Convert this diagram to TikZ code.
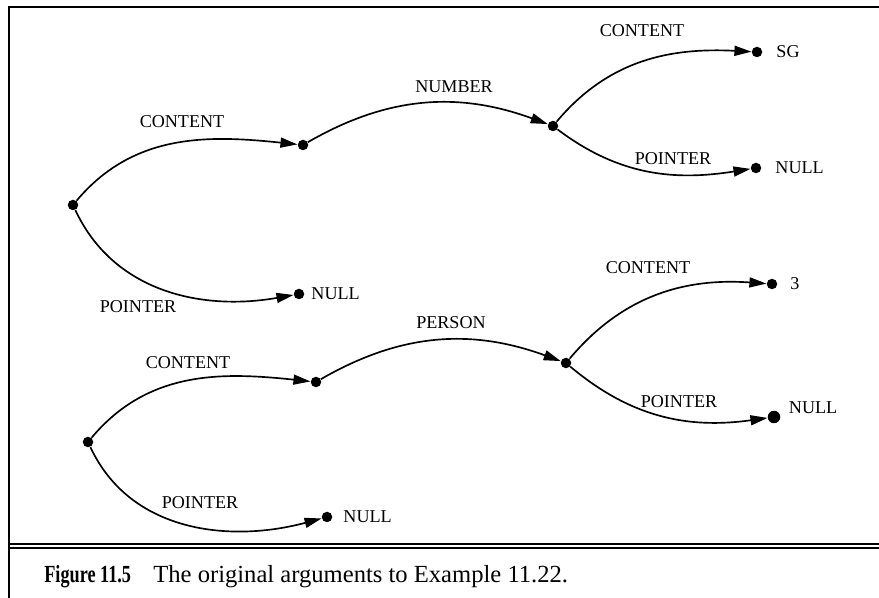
\documentclass[tikz,border=0pt]{standalone}
\usepackage{fontspec}
\setmainfont{Liberation Serif}
\usetikzlibrary{positioning,arrows.meta}

\begin{document}
\begin{tikzpicture}[
    dot/.style={circle,fill=black,inner sep=0pt,minimum size=2.1mm},
    lab/.style={inner sep=0pt,font=\fontsize{10.3}{12}\selectfont},
    captext/.style={inner sep=0pt,font=\fontsize{14}{16}\selectfont},
    arr/.style={-{Triangle[length=3.4mm,width=2mm]},line width=0.95pt},
    frameline/.style={line width=1.2pt}]
  \useasboundingbox (0,0) rectangle (17.58,-11.96);
  % frame and caption rules
  \draw[frameline] (0.176,-11.96) -- (0.176,-0.144) -- (17.58,-0.144);
  \draw[line width=0.7pt] (0.176,-10.88) -- (17.58,-10.88);
  \draw[line width=1.3pt] (0.176,-10.96) -- (17.58,-10.96);
  % first argument
  \node[dot] (a1) at (1.46,-4.10) {};
  \node[dot] (b1) at (6.06,-2.90) {};
  \node[dot] (c1) at (11.06,-2.52) {};
  \node[dot] (sg) at (15.14,-1.04) {};
  \node[dot] (n1) at (15.12,-3.36) {};
  \node[dot] (n0) at (5.98,-5.88) {};
  \draw[arr] (a1) to[out=50,in=174] (b1);
  \draw[arr] (a1) to[out=-65,in=190] (n0);
  \draw[arr] (b1) to[out=30,in=160] (c1);
  \draw[arr] (c1) to[out=50,in=177] (sg);
  \draw[arr] (c1) to[out=-37,in=189] (n1);
  \node[lab] (l1) at (3.64,-2.44) {CONTENT};
  \node[lab] (l2) at (2.76,-6.14) {POINTER};
  \node[lab] (l3) at (9.08,-1.74) {NUMBER};
  \node[lab] (l4) at (12.84,-0.62) {CONTENT};
  \node[lab] (l5) at (13.46,-3.18) {POINTER};
  \node[lab,right=0.27cm of sg] (sgl) {SG};
  \node[lab,right=0.27cm of n1] (n1l) {NULL};
  \node[lab,right=0.13cm of n0] (n0l) {NULL};
  % second argument
  \node[dot] (a2) at (1.76,-8.84) {};
  \node[dot] (b2) at (6.32,-7.64) {};
  \node[dot] (c2) at (11.32,-7.26) {};
  \node[dot] (th) at (15.44,-5.68) {};
  \node[dot,minimum height=2.5mm] (n3) at (15.48,-8.34) {};
  \node[dot] (n2) at (6.54,-10.34) {};
  \draw[arr] (a2) to[out=50,in=174] (b2);
  \draw[arr] (a2) to[out=-65,in=195] (n2);
  \draw[arr] (b2) to[out=30,in=160] (c2);
  \draw[arr] (c2) to[out=50,in=176] (th);
  \draw[arr] (c2) to[out=-40,in=188] (n3);
  \node[lab] (m1) at (3.76,-7.26) {CONTENT};
  \node[lab] (m2) at (4.00,-10.06) {POINTER};
  \node[lab] (m3) at (9.02,-6.46) {PERSON};
  \node[lab] (m4) at (12.96,-5.36) {CONTENT};
  \node[lab] (m5) at (13.58,-8.04) {POINTER};
  \node[lab,right=0.25cm of th] (thl) {3};
  \node[lab,right=0.16cm of n3,yshift=0.18cm] (n3l) {NULL};
  \node[lab,right=0.21cm of n2] (n2l) {NULL};
  % caption
  \node[captext,anchor=base west] (fig) at (0.88,-11.64) {\scalebox{0.74}[1]{\bfseries Figure 11.5}};
  \node[captext,anchor=base west] (captxt) at (3.06,-11.64) {The original arguments to Example 11.22.};
\end{tikzpicture}
\end{document}
